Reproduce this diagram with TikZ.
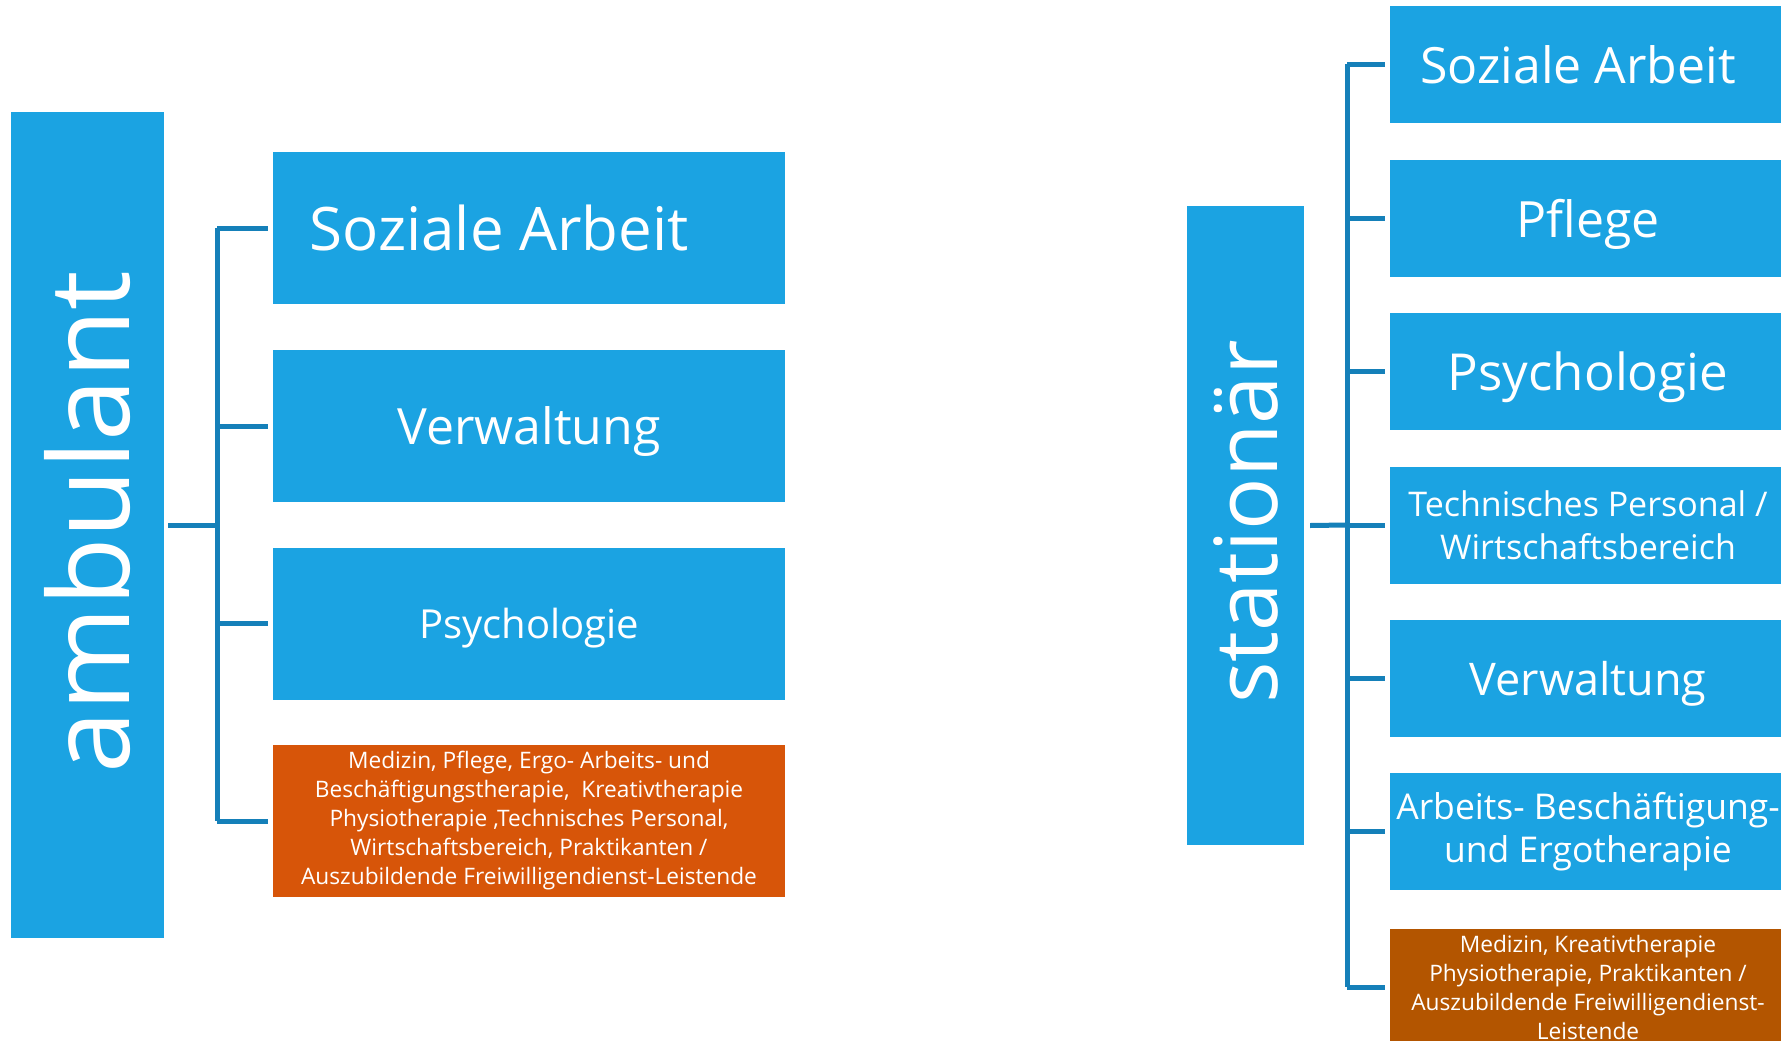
\documentclass[tikz,border=0pt]{standalone}
\usepackage{fontspec}
\setmainfont{Open Sans}
\definecolor{boxblue}{RGB}{27,163,226}
\definecolor{connblue}{RGB}{21,128,185}
\definecolor{orangeA}{RGB}{215,85,9}
\definecolor{orangeB}{RGB}{179,85,0}
\newcommand{\fs}[2]{\fontsize{#1}{#2}\selectfont}
\tikzset{
  bluebox/.style={fill=boxblue, text=white, inner sep=0pt, align=center},
  lbox/.style={bluebox, minimum width=512pt, minimum height=152pt},
  rbox/.style={bluebox, minimum width=396pt, minimum height=117pt},
  oneline/.style={text depth=0pt},
  conn/.style={draw=connblue, line width=5pt},
}
\begin{document}
\begin{tikzpicture}[x=1pt,y=-1pt]
\useasboundingbox (0,0) rectangle (1781,1041);
% left group
\node[bluebox, minimum width=153pt, minimum height=826pt] (amb) at (87.5,525) {};
\node[text=white, rotate=90, inner sep=0pt, font=\fs{112}{120}] (ambt) at (87.5,522) {ambulant};
\node[lbox, font=\fs{60}{70}] (l1) at (529,228) {Soziale Arbeit\hspace*{60pt}};
\node[lbox, oneline, font=\fs{50}{60}] (l2) at (529,426) {Verwaltung};
\node[lbox, oneline, font=\fs{40}{48}] (l3) at (529,623.5) {Psychologie};
\node[lbox, fill=orangeA, font=\fs{22.7}{29}] (l4) at (529,821) {Medizin, Pflege, Ergo- Arbeits- und\\Beschäftigungstherapie,\ \ Kreativtherapie\\Physiotherapie ,Technisches Personal,\\Wirtschaftsbereich, Praktikanten /\\Auszubildende Freiwilligendienst-Leistende};
\coordinate (lb) at (217,525);
\draw[conn] ([xshift=4pt]amb.east) -- (lb);
\draw[conn] (lb |- l1.west) -- (lb |- l4.west);
\foreach \n in {l1,l2,l3,l4}{
  \draw[conn] (lb |- \n.west) -- ([xshift=-5pt]\n.west);
}
% right group
\node[bluebox, minimum width=117pt, minimum height=639pt] (sta) at (1245.5,525.5) {};
\node[text=white, rotate=90, inner sep=0pt, font=\fs{87}{100}] (stat) at (1245.5,522) {stationär};
\node[rbox, font=\fs{50}{60}] (r1) at (1588,64.5) {Soziale Arbeit\hspace*{20pt}};
\node[rbox, oneline, font=\fs{50}{60}] (r2) at (1588,218) {Pflege};
\node[rbox, oneline, font=\fs{51}{60}] (r3) at (1588,371) {Psychologie};
\node[rbox, font=\fs{34}{43}] (r4) at (1588,525.5) {Technisches Personal /\\Wirtschaftsbereich};
\node[rbox, oneline, font=\fs{45}{54}] (r5) at (1588,678.5) {Verwaltung};
\node[rbox, font=\fs{35.5}{43}] (r6) at (1588,831.5) {Arbeits- Beschäftigung-\\und Ergotherapie};
\node[rbox, fill=orangeB, font=\fs{22.7}{29}] (r7) at (1588,987) {Medizin, Kreativtherapie\\Physiotherapie, Praktikanten /\\Auszubildende Freiwilligendienst-\\Leistende};
\coordinate (rb) at (1347,525);
\draw[conn] ([xshift=6pt]sta.east) -- (rb);
\draw[conn] (rb |- r1.west) -- (rb |- r7.west);
\foreach \n in {r1,r2,r3,r4,r5,r6,r7}{
  \draw[conn] (rb |- \n.west) -- ([xshift=-5pt]\n.west);
}
\end{tikzpicture}
\end{document}
